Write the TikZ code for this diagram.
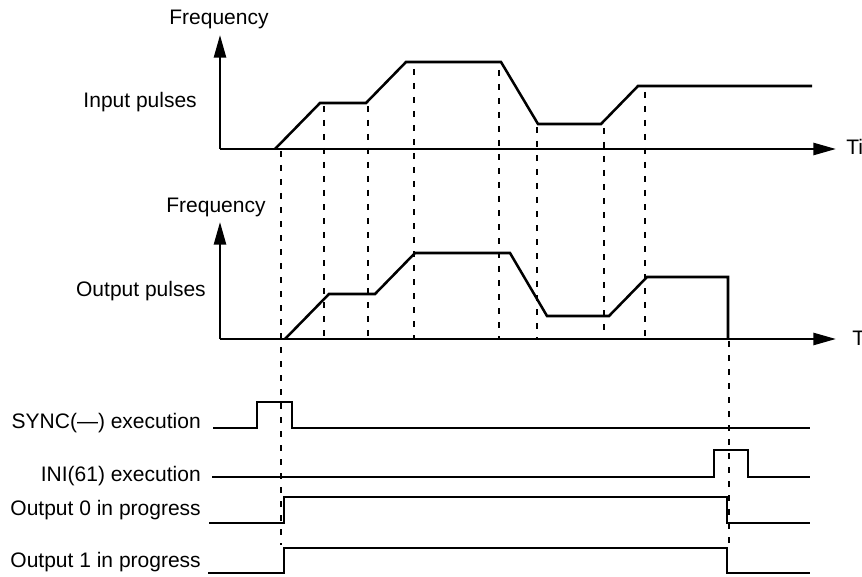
\documentclass[tikz,border=0pt]{standalone}
\usepackage{fontspec}
\setmainfont{Liberation Sans}
\usetikzlibrary{arrows.meta}

\begin{document}
\begin{tikzpicture}[x=0.75pt,y=-0.75pt,
  sig/.style={line width=1.9pt},
  axis/.style={line width=1.9pt,-{Triangle[length=17pt,width=9pt]}},
  guide/.style={line width=0.9pt,dash pattern=on 4.5pt off 6pt},
  lbl/.style={font=\fontsize{15.75}{18}\selectfont,inner sep=0pt}]
\useasboundingbox (0,0) rectangle (862,577);

% input pulses
\coordinate (o1) at (220,149);
\draw[axis] (o1) -- (220,35);
\draw[axis] (o1) -- (836,149);
\node[lbl,anchor=base] (f1) at (219,25) {Frequency};
\node[lbl,anchor=base east] (inp) at (197,108) {Input pulses};
\node[lbl,anchor=base west] (t1) at (846,155) {Time};
\draw[sig] (275,149) -- (320,103) -- (366,103) -- (406,62) -- (501,62)
  -- (538,124) -- (601,124) -- (638,86) -- (812,86);

% output pulses
\coordinate (o2) at (220,339);
\draw[axis] (o2) -- (220,222);
\draw[axis] (o2) -- (836,339);
\node[lbl,anchor=base] (f2) at (216,213) {Frequency};
\node[lbl,anchor=base east] (outp) at (206,296) {Output pulses};
\node[lbl,anchor=base west] (t2) at (852,345) {Time};
\draw[sig] (285,339) -- (329,294) -- (375,294) -- (415,253) -- (510,253)
  -- (547,316) -- (609,316) -- (647,277) -- (728,277) -- (728,339);

% dashed guides
\draw[guide] (281,151) -- (281,545);
\draw[guide] (324,106) -- (324,339);
\draw[guide] (368,106) -- (368,339);
\draw[guide] (414,69) -- (414,339);
\draw[guide] (499,70) -- (499,339);
\draw[guide] (537,127) -- (537,339);
\draw[guide] (604,128) -- (604,339);
\draw[guide] (645,92) -- (645,339);
\draw[guide] (729,341) -- (729,547);

% timing signals
\node[lbl,anchor=base east] (sync) at (201,428) {SYNC(—) execution};
\draw[sig] (213,428) -- (257,428) -- (257,402) -- (292,402) -- (292,428) -- (810,428);
\node[lbl,anchor=base east] (ini) at (201,481) {INI(61) execution};
\draw[sig] (212,477) -- (714,477) -- (714,450) -- (748,450) -- (748,477) -- (810,477);
\node[lbl,anchor=base east] (out0) at (201,515) {Output 0 in progress};
\draw[sig] (209,523) -- (284,523) -- (284,497) -- (727,497) -- (727,523) -- (810,523);
\node[lbl,anchor=base east] (out1) at (201,567) {Output 1 in progress};
\draw[sig] (208,573) -- (284,573) -- (284,548) -- (727,548) -- (727,573) -- (810,573);
\end{tikzpicture}
\end{document}
